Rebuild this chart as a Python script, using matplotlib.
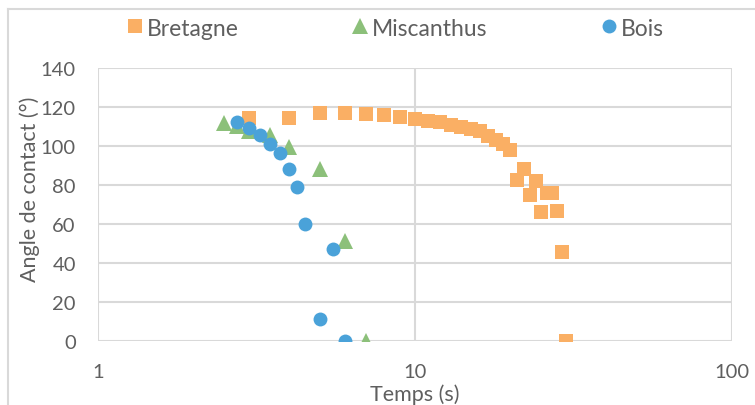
import matplotlib
matplotlib.use('Agg')
import matplotlib.pyplot as plt
from matplotlib.lines import Line2D
from matplotlib.ticker import FixedLocator, NullLocator

# Data
bretagne_t = [3, 4, 5, 6, 7, 8, 9, 10, 11, 12, 13, 14, 15, 16, 17, 18, 19, 20,
              21, 22, 23, 24, 25, 26, 27, 28, 29, 30]
bretagne_a = [114.6, 114.6, 117, 117, 116.6, 116.1, 115.1, 113.6, 112.6, 112.1,
              110.6, 109.6, 108.6, 107.6, 105.3, 103.3, 101.2, 98.2,
              82.4, 88.4, 74.7, 81.9, 66.0, 75.7, 75.7, 66.5, 45.8, 0]

miscanthus_t = [2.5, 2.75, 3, 3.5, 4, 5, 6, 7]
miscanthus_a = [112, 110.5, 107.5, 105.8, 99.7, 88.4, 51.4, 0]

bois_t = [2.75, 3, 3.25, 3.5, 3.75, 4, 4.25, 4.5, 5, 5.5, 6]
bois_a = [112.2, 109.3, 105.4, 101.1, 96.2, 88.4, 79.2, 59.8, 11.4, 47.1, 0]

x_ticks = [1, 10, 100]
y_ticks = [0, 20, 40, 60, 80, 100, 120, 140]

plt.rcParams['font.family'] = ['Lato', 'DejaVu Sans']
text_col = '#5f5f5f'
grid_col = '#d9d9d9'
fs = 14.5

fig = plt.figure(figsize=(7.55, 4.06), dpi=100)
ax = fig.add_axes([98 / 755, 1 - 342 / 406, (732 - 98) / 755, (342 - 69) / 406])

ax.plot(bretagne_t, bretagne_a, 's', color='#faaf64', markersize=10, markeredgewidth=0,
        label='Bretagne', zorder=3)
ax.plot(miscanthus_t, miscanthus_a, '^', color='#8cc07a', markersize=11, markeredgewidth=0,
        label='Miscanthus', zorder=3)
ax.plot(bois_t, bois_a, 'o', color='#4aa2d9', markersize=10, markeredgewidth=0,
        label='Bois', zorder=4)

ax.set_xscale('log')
ax.set_xlim(1, 100)
ax.set_ylim(0, 140)
ax.xaxis.set_major_locator(FixedLocator(x_ticks))
ax.xaxis.set_minor_locator(NullLocator())
ax.set_xticklabels([str(t) for t in x_ticks])
ax.set_yticks(y_ticks)

ax.grid(True, which='major', color=grid_col, linewidth=1.5, zorder=0)
ax.set_axisbelow(True)
for s in ax.spines.values():
    s.set_visible(False)
ax.tick_params(axis='both', length=0, labelsize=fs, labelcolor=text_col)
ax.tick_params(axis='y', pad=16)
ax.tick_params(axis='x', pad=16)

ax.set_xlabel('Temps (s)', fontsize=15.5, color=text_col)
ax.set_ylabel('Angle de contact (°)', fontsize=15.5, color=text_col)
ax.xaxis.set_label_coords(0.5, -0.157)
ax.yaxis.set_label_coords(-0.0915, 0.56)

# chart area border (cut at right and bottom)
fig.add_artist(Line2D([8 / 755, 8 / 755], [0, 1 - 10 / 406], transform=fig.transFigure,
                      color=grid_col, linewidth=1.5))
fig.add_artist(Line2D([8 / 755, 1], [1 - 10 / 406, 1 - 10 / 406], transform=fig.transFigure,
                      color=grid_col, linewidth=1.5))

fig.legend(loc='center', bbox_to_anchor=(396 / 755, 1 - 29 / 406), ncol=3, frameon=False,
           fontsize=16.5, labelcolor=text_col, handlelength=0.6, handletextpad=0.22,
           columnspacing=5.0, borderaxespad=0)

fig.savefig('out.png', dpi=100, facecolor='white')
